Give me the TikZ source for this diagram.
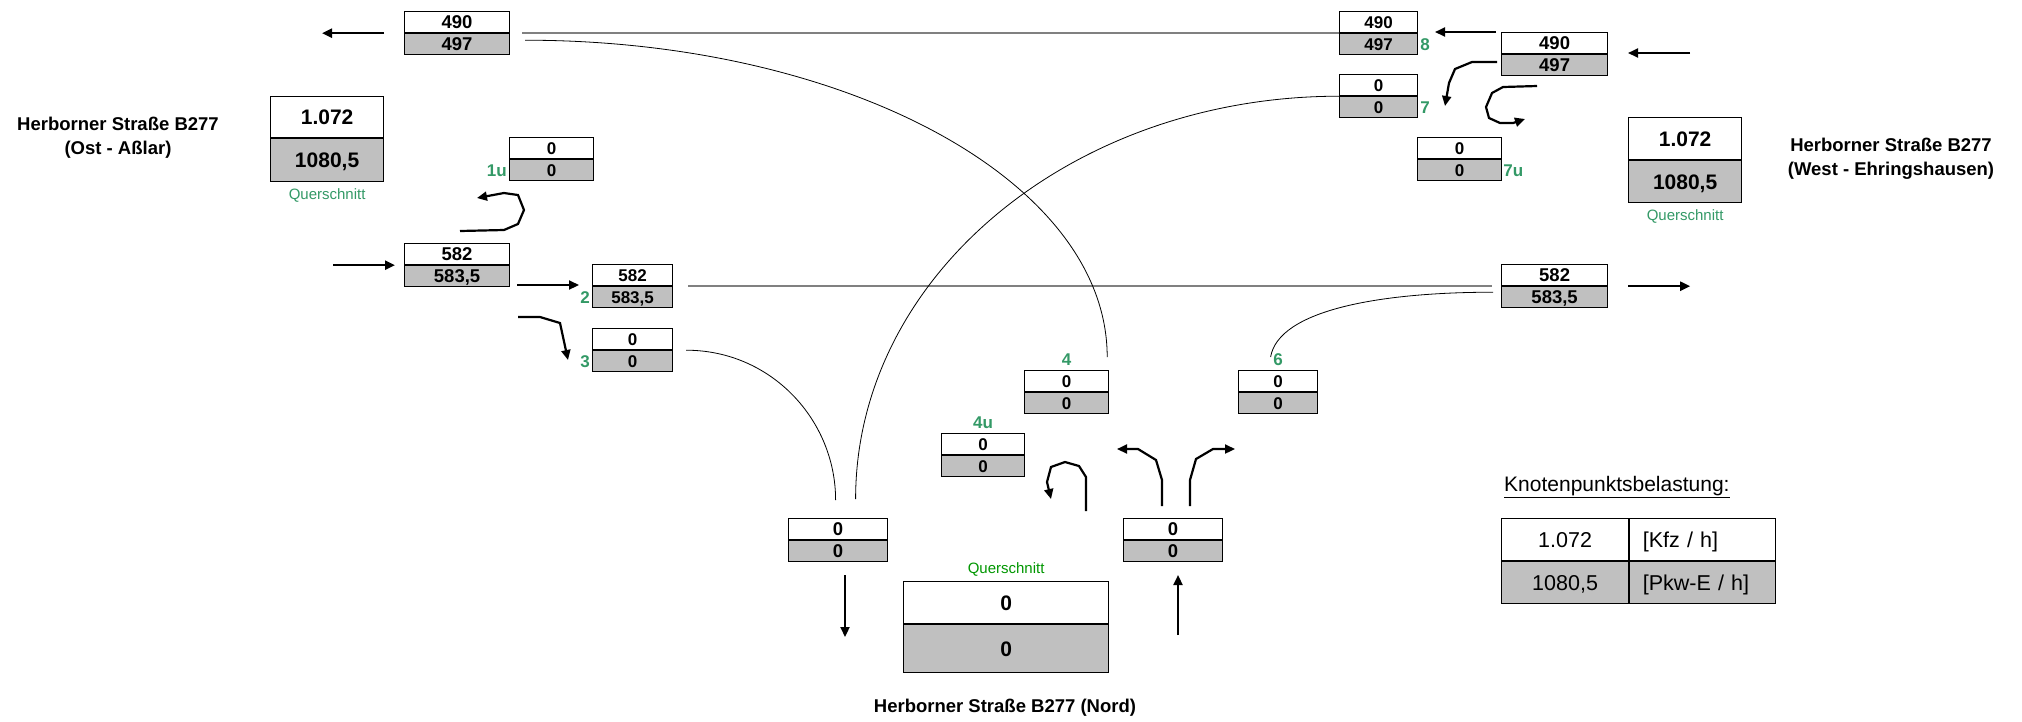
\documentclass[tikz,border=0pt]{standalone}
\usepackage{fontspec}
\setmainfont{Liberation Sans}
\usepackage{tikz}
\usetikzlibrary{positioning, arrows.meta}
\definecolor{boxgray}{RGB}{192,192,192}
\definecolor{nrgreen}{RGB}{51,153,102}
\definecolor{qsgreen}{RGB}{0,150,0}
\tikzset{zelle/.style={draw, line width=1.2pt, inner sep=0pt, minimum height=21pt, font=\bfseries\fontsize{17}{17}\selectfont, text height=12.2pt, text depth=0pt},
    breit/.style={font=\bfseries\fontsize{18.5}{18.5}\selectfont, text height=13.3pt},
    quer/.style={font=\bfseries\fontsize{21}{21}\selectfont, text height=15pt},
    grau/.style={fill=boxgray},
    nr/.style={text=nrgreen, font=\bfseries\fontsize{17}{17}\selectfont, inner sep=1pt},
    qlabel/.style={text=nrgreen, font=\fontsize{15}{15}\selectfont, inner sep=0pt},
    strasse/.style={font=\bfseries\fontsize{18.5}{24}\selectfont, align=center},
    kp/.style={draw, line width=1.2pt, inner ysep=0pt, inner xsep=13pt, minimum height=42pt, font=\fontsize{21.5}{21.5}\selectfont, text height=15.4pt, text depth=0pt},
    pfeil/.style={line width=2.2pt, -{Triangle[length=10pt,width=9pt]}},
    linie/.style={draw=gray, line width=1.5pt},
    bogen/.style={draw=black, line width=0.8pt}}
% [style] name x y width top bottom
\newcommand{\zwei}[7][]{%
    \node[zelle, #1, minimum width=#5, anchor=north west] (#2a) at (#3,#4) {#6};
    \node[zelle, grau, #1, minimum width=#5, anchor=north] (#2b) at (#2a.south) {#7};}

\begin{document}
\begin{tikzpicture}[x=1pt, y=-1pt]
            \useasboundingbox (0,0) rectangle (2022,721);

            % Zaehlstellen
            \zwei[breit]{wout}{404}{11}{105pt}{490}{497}
            \zwei[breit]{win}{1501}{32}{106pt}{490}{497}
            \zwei{q8}{1339}{11}{78pt}{490}{497}
            \zwei{q7}{1339}{74}{78pt}{0}{0}
            \zwei{q7u}{1417}{137}{84pt}{0}{0}
            \zwei{q1u}{509}{137}{84pt}{0}{0}
            \zwei[breit]{ein}{404}{243}{105pt}{582}{583,5}
            \zwei{q2}{592}{264}{80pt}{582}{583,5}
            \zwei{q3}{592}{328}{80pt}{0}{0}
            \zwei[breit]{eout}{1501}{264}{106pt}{582}{583,5}
            \zwei{q4}{1024}{370}{84pt}{0}{0}
            \zwei{q4u}{941}{433}{83pt}{0}{0}
            \zwei{q6}{1238}{370}{79pt}{0}{0}
            \zwei[breit]{sout}{788}{518}{99pt}{0}{0}
            \zwei[breit]{sin}{1123}{518}{99pt}{0}{0}

            % Nummern
            \node[nr, left=1pt of q1ub] (n1u) {1u};
            \node[nr, left=1pt of q2b] (n2) {2};
            \node[nr, left=1pt of q3b] (n3) {3};
            \node[nr, right=1pt of q8b] (n8) {8};
            \node[nr, right=1pt of q7b] (n7) {7};
            \node[nr, right=0pt of q7ub] (n7u) {7u};
            \node[nr, above=3pt of q4a] (n4) {4};
            \node[nr, above=3pt of q4ua] (n4u) {4u};
            \node[nr, above=3pt of q6a] (n6) {6};

            % Querschnitte
            \node[zelle, quer, minimum width=113pt, minimum height=41pt, anchor=north west] (qwa) at (270,96) {1.072};
            \node[zelle, quer, grau, minimum width=113pt, minimum height=43pt, anchor=north] (qwb) at (qwa.south) {1080,5};
            \node[qlabel, below=6pt of qwb] (lqw) {Querschnitt};
            \node[zelle, quer, minimum width=113pt, minimum height=42pt, anchor=north west] (qea) at (1628,117) {1.072};
            \node[zelle, quer, grau, minimum width=113pt, minimum height=42pt, anchor=north] (qeb) at (qea.south) {1080,5};
            \node[qlabel, below=6pt of qeb] (lqe) {Querschnitt};
            \node[zelle, quer, minimum width=205pt, minimum height=42pt, anchor=north west] (qsa) at (903,581) {0};
            \node[zelle, quer, grau, minimum width=205pt, minimum height=48pt, anchor=north] (qsb) at (qsa.south) {0};
            \node[qlabel, text=qsgreen, above=4pt of qsa] (lqs) {Querschnitt};

            % Strassen
            \node[strasse] (ost) at (118,138) {Herborner Straße B277\\(Ost - Aßlar)};
            \node[strasse] (west) at (1891,159) {Herborner Straße B277\\(West - Ehringshausen)};
            \node[strasse] (nord) at (1005,708) {Herborner Straße B277 (Nord)};

            % Legende
            \node[anchor=west, inner sep=0pt, font=\fontsize{21}{21}\selectfont] (kpt) at (1504,487) {\underline{Knotenpunktsbelastung:}};
            \node[kp, minimum width=127pt, anchor=north west] (kpa) at (1501,518) {1.072};
            \node[kp, text width=120pt, align=left, anchor=north west] (kpb) at (kpa.north east) {[Kfz / h]};
            \node[kp, grau, minimum width=127pt, anchor=north] (kpc) at (kpa.south) {1080,5};
            \node[kp, grau, text width=120pt, align=left, anchor=north west] (kpd) at (kpc.north east) {[Pkw-E / h]};

            % Verbindungen
            \draw[linie] ([xshift=12pt]wouta.south east) -- (q8a.south west);
            \draw[linie] ([xshift=15pt]q2a.south east) -- ([xshift=-9pt]eouta.south west);
            \draw[bogen] ([shift={(15pt,-7pt)}]wouta.south east) .. controls +(321,0) and +(0,-176) .. ([shift={(-2pt,13pt)}]q4a.north east);
            \draw[bogen] ([xshift=13pt]q3a.south east) .. controls +(85,0) and +(0,-80) .. ([shift={(-2.5pt,18pt)}]souta.north);
            \draw[bogen] ([shift={(17.5pt,19pt)}]souta.north) .. controls +(0,-223) and +(-267,0) .. (q7a.south west);
            \draw[bogen] ([shift={(-7.5pt,13pt)}]q6a.north) .. controls +(8,-47) and +(-113,0) .. ([shift={(-8pt,-6pt)}]eouta.south west);

            % Fahrtrichtungen
            \draw[pfeil] ([xshift=-20pt]wouta.south west) -- ([xshift=-82pt]wouta.south west);
            \draw[pfeil] ([xshift=-71pt]eina.south west) -- ([xshift=-9pt]eina.south west);
            \draw[pfeil] (517,285) -- (579,285);
            \draw[pfeil] (518,317) -- (540,317) -- (560,323) -- (568,360);
            \draw[pfeil] (460,231) -- (504,230) -- (518,224) -- (524,210) -- (518,195) -- (504,193) -- (477,198);
            \draw[pfeil] (1496,32) -- (1435,32);
            \draw[pfeil] (1690,53) -- (1628,53);
            \draw[pfeil] (1497,62) -- (1472,62) -- (1455,69) -- (1449,83) -- (1445,106);
            \draw[pfeil] (1537,86) -- (1503,87) -- (1492,93) -- (1486,107) -- (1489,118) -- (1500,123) -- (1513,123) -- (1525,119);
            \draw[pfeil] ([xshift=20pt]eouta.south east) -- ([xshift=82pt]eouta.south east);
            \draw[pfeil] (845,575) -- (845,637);
            \draw[pfeil] (1178,635) -- (1178,575);
            \draw[pfeil] (1086,511) -- (1086,477) -- (1079,466) -- (1065,462) -- (1051,467) -- (1047,482) -- (1051,499);
            \draw[pfeil] (1162,506) -- (1162,480) -- (1156,460) -- (1138,449) -- (1117,449);
            \draw[pfeil] (1190,506) -- (1190,480) -- (1196,459) -- (1213,449) -- (1235,449);
        \end{tikzpicture}
\end{document}
